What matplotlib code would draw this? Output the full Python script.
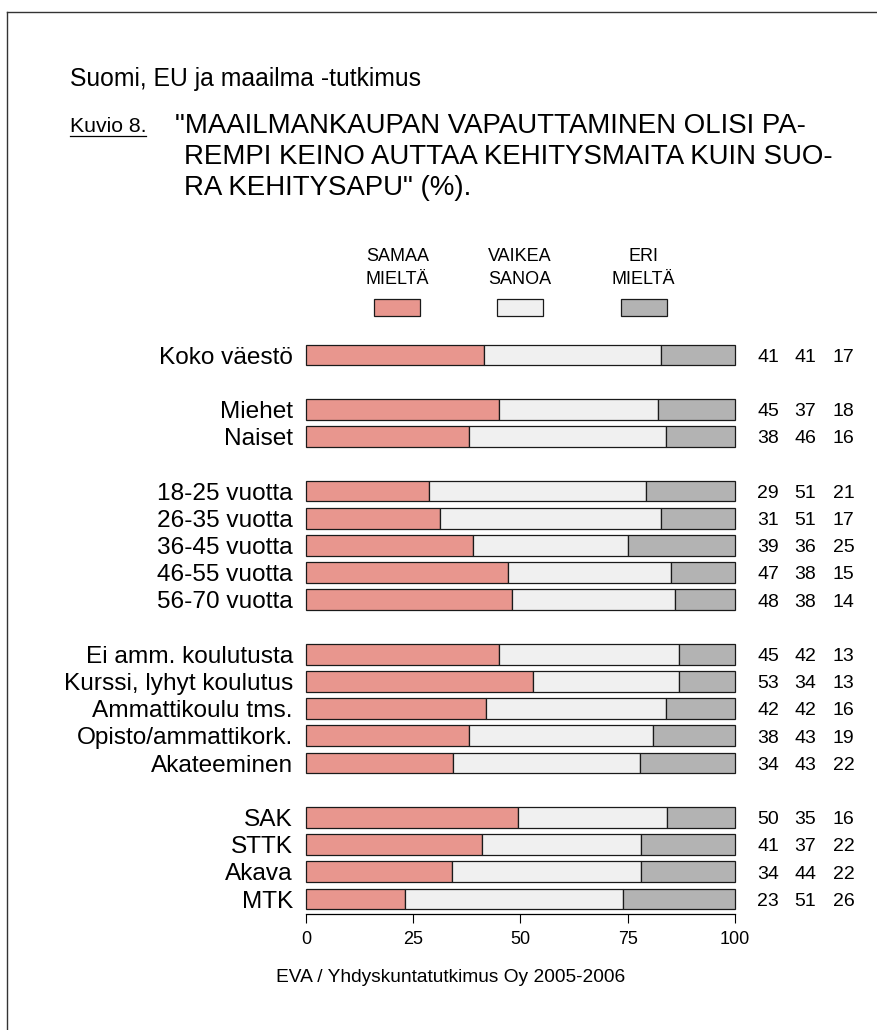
import matplotlib
matplotlib.use('Agg')
import matplotlib.pyplot as plt
from matplotlib.lines import Line2D
from matplotlib.patches import Rectangle
import numpy as np

plt.rcParams['font.family'] = ['Liberation Sans', 'DejaVu Sans']

# Data
categories = ['Koko väestö',
              'Miehet', 'Naiset',
              '18-25 vuotta', '26-35 vuotta', '36-45 vuotta', '46-55 vuotta', '56-70 vuotta',
              'Ei amm. koulutusta', 'Kurssi, lyhyt koulutus', 'Ammattikoulu tms.',
              'Opisto/ammattikork.', 'Akateeminen',
              'SAK', 'STTK', 'Akava', 'MTK']
group_sizes = [1, 2, 5, 5, 4]
samaa = [41, 45, 38, 29, 31, 39, 47, 48, 45, 53, 42, 38, 34, 50, 41, 34, 23]
vaikea = [41, 37, 46, 51, 51, 36, 38, 38, 42, 34, 42, 43, 43, 35, 37, 44, 51]
eri = [17, 18, 16, 21, 17, 25, 15, 14, 13, 13, 16, 19, 22, 16, 22, 22, 26]
legend_labels = ['SAMAA\nMIELTÄ', 'VAIKEA\nSANOA', 'ERI\nMIELTÄ']
x_ticks = [0, 25, 50, 75, 100]

colors = ['#E8968E', '#F0F0F0', '#B3B3B3']

W, H = 878, 1030
fig = plt.figure(figsize=(W / 100, H / 100), dpi=100)


def fx(x):
    return x / W


def fy(y):
    return 1 - y / H


# rivien paikat: tyhjä rivi ryhmien välissä
pos = []
slot = 0
for n in group_sizes:
    for i in range(n):
        pos.append(slot)
        slot += 1
    slot += 1
pos = np.array(pos)

slot_px = 27.2
y0 = 355
ylim_top, ylim_bot = -0.62, 20.55
top_px = y0 + ylim_top * slot_px
bot_px = y0 + ylim_bot * slot_px
ax = fig.add_axes([fx(306), fy(bot_px), (735 - 306) / W, (bot_px - top_px) / H])

vals = np.array([samaa, vaikea, eri], dtype=float)
pct = vals / vals.sum(axis=0) * 100  # skaalataan summaan 100
left = np.zeros(len(categories))
for k in range(3):
    ax.barh(pos, pct[k], left=left, height=0.76, color=colors[k],
            edgecolor='#1a1a1a', linewidth=0.9, clip_on=False)
    left += pct[k]

ax.set_xlim(0, 100)
ax.set_ylim(ylim_bot, ylim_top)
for s in ['left', 'right', 'top']:
    ax.spines[s].set_visible(False)
ax.spines['bottom'].set_linewidth(0.9)
ax.set_yticks(pos, categories, fontsize=17.6)
ax.tick_params(axis='y', length=0, pad=9.4)
ax.set_xticks(x_ticks, [str(t) for t in x_ticks], fontsize=13)
ax.tick_params(axis='x', length=6.5, width=0.8, pad=5.5)
ax.set_facecolor('none')

# prosenttiluvut oikealla
num_x = [107.7, 116.4, 125.3]
for i, p in enumerate(pos):
    for k, v in enumerate([samaa[i], vaikea[i], eri[i]]):
        ax.text(num_x[k], p + 0.25, str(v), ha='center', va='baseline',
                fontsize=14, clip_on=False)

# selite
leg_x = [397.5, 520, 643.5]
for k, lab in enumerate(legend_labels):
    l1, l2 = lab.split('\n')
    fig.text(fx(leg_x[k]), fy(261), l1, ha='center', va='baseline', fontsize=13)
    fig.text(fx(leg_x[k]), fy(284), l2, ha='center', va='baseline', fontsize=13)
    fig.add_artist(Rectangle((fx(leg_x[k] - 23), fy(316)), 46 / W, 17 / H,
                             transform=fig.transFigure, facecolor=colors[k],
                             edgecolor='#1a1a1a', linewidth=0.9))

# otsikot
fig.text(fx(70), fy(86), 'Suomi, EU ja maailma -tutkimus', fontsize=17.8, va='baseline')
kuvio = fig.text(fx(70), fy(132), 'Kuvio 8.', fontsize=15.3, va='baseline')
fig.text(fx(175), fy(133), '"MAAILMANKAUPAN VAPAUTTAMINEN OLISI PA-', fontsize=19.9, va='baseline')
fig.text(fx(184), fy(164), 'REMPI KEINO AUTTAA KEHITYSMAITA KUIN SUO-', fontsize=19.9, va='baseline')
fig.text(fx(184), fy(195), 'RA KEHITYSAPU" (%).', fontsize=19.9, va='baseline')

fig.text(fx(451), fy(978), 'EVA / Yhdyskuntatutkimus Oy 2005-2006', fontsize=13.8,
         ha='center', va='center')

# kehys
fig.add_artist(Line2D([fx(7), fx(7)], [fy(12), 0], color='#333333', lw=1))
fig.add_artist(Line2D([fx(7), 1], [fy(12), fy(12)], color='#333333', lw=1))

# alleviivaus
fig.canvas.draw()
bb = kuvio.get_window_extent()
fig.add_artist(Line2D([bb.x0 / W, bb.x1 / W], [fy(135.5), fy(135.5)], color='black', lw=0.9))

fig.savefig('out.png', dpi=100)
